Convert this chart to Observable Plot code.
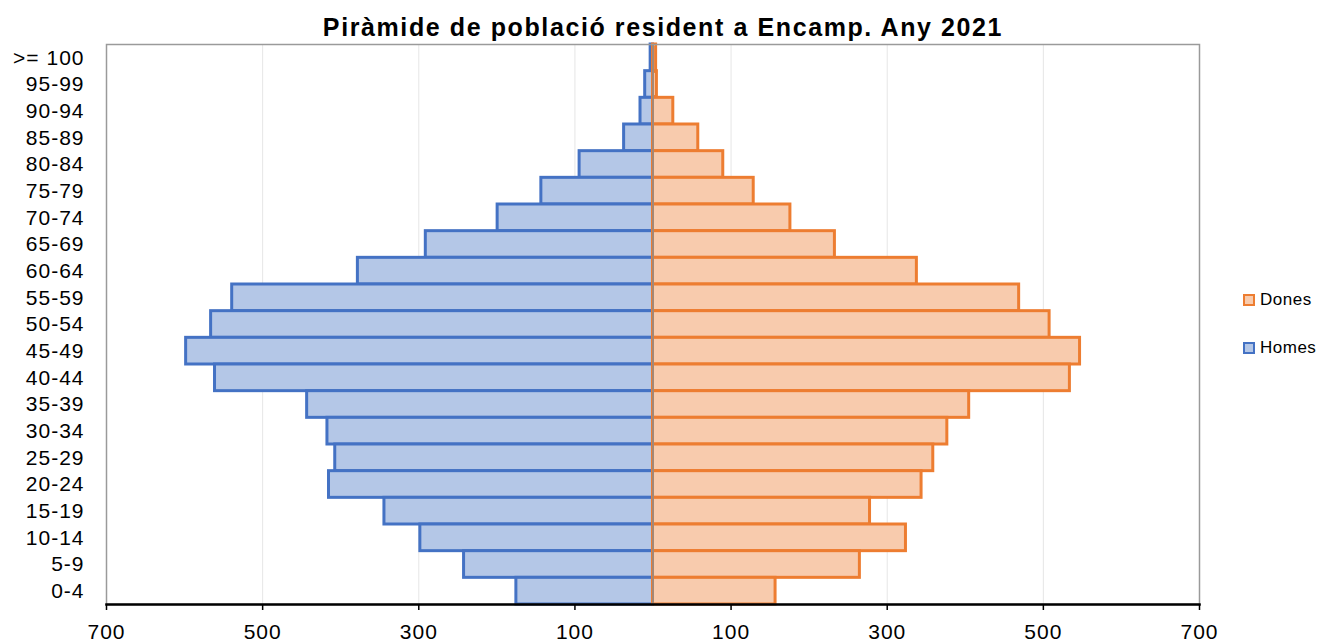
<!DOCTYPE html>
<html>
<head>
<meta charset="utf-8">
<script src="https://cdn.jsdelivr.net/npm/d3@7"></script>
<script src="https://cdn.jsdelivr.net/npm/@observablehq/plot@0.6"></script>
<style>
  html, body { margin: 0; padding: 0; background: #fff; }
  #wrap { position: relative; width: 1322px; height: 643px; font-family: "Liberation Sans", Arial, sans-serif; overflow: hidden; }
  #title { position: absolute; z-index: 2; left: 0; top: 0; width: 1322px; height: 40px; line-height: 54px; text-align: center; font-weight: bold; font-size: 25px; letter-spacing: 1.6px; color: #000; padding-left: 4px; box-sizing: border-box; white-space: nowrap; }
  #chart { position: absolute; left: 0; top: 40px; }
  #chart svg { overflow: visible; }
  #chart svg text { letter-spacing: 1px; }
  .leg { position: absolute; left: 1243px; font-size: 17px; letter-spacing: 0.5px; color: #000; display: flex; align-items: center; height: 20px; }
  .sw { width: 8px; height: 8px; border-width: 2px; border-style: solid; margin-right: 5px; }
</style>
</head>
<body>
<div id="wrap">
  <div id="title">Piràmide de població resident a Encamp. Any 2021</div>
  <div id="chart"></div>
  <div id="legend"></div>
</div>
<script>
const ages = [">= 100","95-99","90-94","85-89","80-84","75-79","70-74","65-69","60-64","55-59","50-54","45-49","40-44","35-39","30-34","25-29","20-24","15-19","10-14","5-9","0-4"];
const homes = [3,10,16,37,94,143,199,291,378,539,566,598,561,443,417,407,415,344,298,242,175];
const dones = [4,5,26,58,90,129,176,233,338,469,508,547,534,405,377,359,344,278,324,265,157];
const xTicks = [-700,-500,-300,-100,100,300,500,700];
const gridTicks = [-500,-300,-100,100,300,500];
const seriesNames = ["Dones","Homes"];
const seriesFill = {Dones: "#f8cbad", Homes: "#b4c7e7"};
const seriesStroke = {Dones: "#ed7d31", Homes: "#4472c4"};

const male = ages.map((a, i) => ({age: a, v: -homes[i]}));
const female = ages.map((a, i) => ({age: a, v: dones[i]}));

const chart = Plot.plot({
  width: 1322,
  height: 603,
  marginTop: 4,
  marginBottom: 39,
  marginLeft: 106,
  marginRight: 123,
  style: {fontFamily: "'Liberation Sans', Arial, sans-serif", fontSize: "21px", color: "#000", background: "transparent"},
  x: {domain: [-700, 700], label: null},
  y: {domain: ages, padding: 0, round: false, label: null},
  marks: [
    Plot.gridX(gridTicks, {stroke: "#e6e6e6", strokeOpacity: 1, strokeWidth: 1}),
    Plot.barX(male, {x1: 0, x2: "v", y: "age", fill: seriesFill.Homes, stroke: seriesStroke.Homes, strokeWidth: 3}),
    Plot.barX(female, {x1: 0, x2: "v", y: "age", fill: seriesFill.Dones, stroke: seriesStroke.Dones, strokeWidth: 3}),
    Plot.ruleX([0], {stroke: "#8c8c8c", strokeWidth: 1.5}),
    Plot.frame({stroke: "#9a9a9a", strokeWidth: 1.5}),
    Plot.axisY({tickSize: 0, tickPadding: 22, fontSize: 21, textAnchor: "end", label: null}),
    Plot.axisX(xTicks, {tickFormat: d => Math.abs(d), tickSize: 6, tickPadding: 14, fontSize: 21, stroke: "#000", strokeWidth: 1.5, label: null}),
    Plot.frame({anchor: "bottom", stroke: "#000", strokeWidth: 2.5})
  ]
});
document.getElementById("chart").appendChild(chart);

const legend = document.getElementById("legend");
const legTops = {Dones: 290, Homes: 338};
seriesNames.forEach(n => {
  const d = document.createElement("div");
  d.className = "leg";
  d.style.top = legTops[n] + "px";
  d.innerHTML = `<span class="sw" style="background:${seriesFill[n]};border-color:${seriesStroke[n]}"></span><span>${n}</span>`;
  legend.appendChild(d);
});
</script>
</body>
</html>
